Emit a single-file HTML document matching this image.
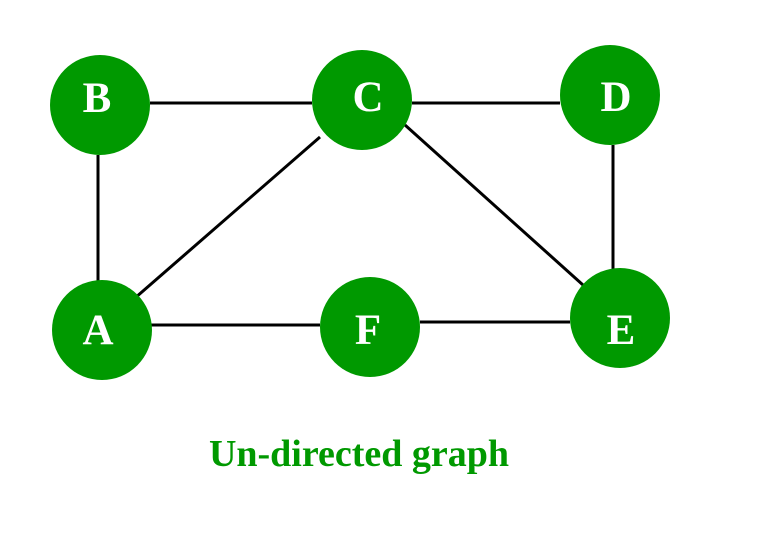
<!DOCTYPE html>
<html><head><style>body{margin:0;background:#fff}</style></head><body>
<svg width="758" height="546" xmlns="http://www.w3.org/2000/svg">
<g stroke="#000" stroke-width="3">
<line x1="150" y1="103" x2="312" y2="103"/>
<line x1="412" y1="103" x2="560" y2="103"/>
<line x1="98" y1="155" x2="98" y2="285"/>
<line x1="135" y1="298" x2="320" y2="137"/>
<line x1="405" y1="125" x2="583" y2="285"/>
<line x1="613" y1="145" x2="613" y2="270"/>
<line x1="150" y1="325" x2="320" y2="325"/>
<line x1="420" y1="322" x2="570" y2="322"/>
</g>
<g fill="#009900">
<circle cx="100" cy="105" r="50"/>
<circle cx="362" cy="100" r="50"/>
<circle cx="610" cy="95" r="50"/>
<circle cx="102" cy="330" r="50"/>
<circle cx="370" cy="327" r="50"/>
<circle cx="620" cy="318" r="50"/>
</g>
<g fill="#fff" font-family="Liberation Serif, serif" font-weight="bold" font-size="43" text-anchor="middle">
<text x="97" y="112">B</text>
<text x="368" y="111">C</text>
<text x="616" y="111">D</text>
<text x="98" y="344">A</text>
<text x="368" y="344">F</text>
<text x="621" y="344">E</text>
</g>
<text x="359" y="466" fill="#009900" font-family="Liberation Serif, serif" font-weight="bold" font-size="38" text-anchor="middle">Un-directed graph</text>
</svg>
</body></html>
